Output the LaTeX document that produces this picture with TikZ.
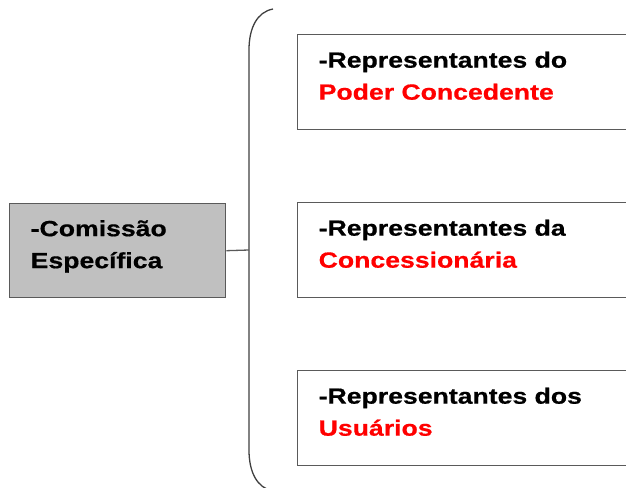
\documentclass[tikz,border=0pt]{standalone}
\usepackage{fontspec}
\usepackage{tikz}
\usetikzlibrary{positioning}
\newfontfamily\boxfont[FakeStretch=1.21,FakeBold=0.6]{Liberation Sans}
\definecolor{boxgray}{RGB}{192,192,192}
\definecolor{edgegray}{RGB}{90,90,90}
\tikzset{
  txt/.style={font=\boxfont\bfseries\fontsize{22}{32}\selectfont, align=left,
    execute at end node={\rule[-13pt]{0pt}{13pt}}},
  leftbox/.style={txt, draw=edgegray, line width=1.4pt, fill=boxgray, text width=174pt, inner xsep=21pt, minimum height=94pt, anchor=north west},
  rightbox/.style={txt, draw=edgegray, line width=1.4pt, text width=310pt, inner xsep=21pt, minimum height=95pt, anchor=north west}
}
\begin{document}
\begin{tikzpicture}[x=1pt,y=-1pt]
\useasboundingbox (0,0) rectangle (626,487);
\clip (0,0) rectangle (626,487);
\node[leftbox] (comissao) at (9,203) {-Comissão\\Específica};
\node[rightbox] (poder) at (297,34) {-Representantes do\\\textcolor{red}{Poder Concedente}};
\node[rightbox] (conc) at (297,202) {-Representantes da\\\textcolor{red}{Concessionária}};
\node[rightbox] (usuarios) at (297,370) {-Representantes dos\\\textcolor{red}{Usuários}};
% chave
\coordinate (bracetop) at (273,9);
\coordinate (bracemid) at (249,250);
\coordinate (bracebot) at (273,491);
\draw[edgegray!70!black,line width=1.3pt] (bracetop) .. controls (257,12) and (249,28) .. (249,50) -- (249,450) .. controls (249,472) and (257,488) .. (bracebot);
\draw[edgegray,line width=1.3pt] (comissao.east) -- (bracemid);
\end{tikzpicture}
\end{document}
